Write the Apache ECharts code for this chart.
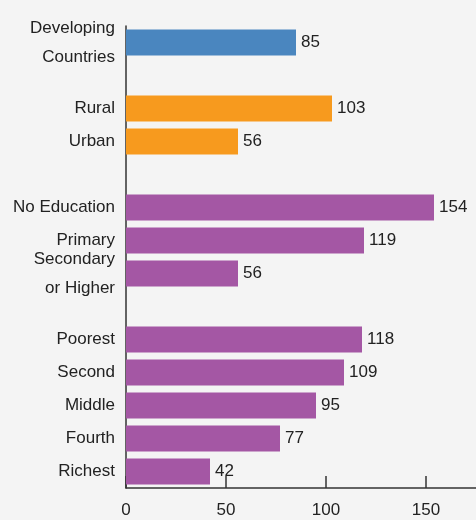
<!DOCTYPE html>
<html>
<head>
<meta charset="utf-8">
<script src="https://cdn.jsdelivr.net/npm/echarts@6/dist/echarts.min.js"></script>
<style>
  html, body { margin: 0; padding: 0; background: #f4f4f4; }
  #app { width: 476px; height: 520px; }
</style>
</head>
<body>
<div id="app"></div>
<script>
// categories, top to bottom; blank entries are the gaps between groups
var categories = ['Developing\nCountries', ' ', 'Rural', 'Urban', '  ', 'No Education', 'Primary',
  'Secondary\nor Higher', '   ', 'Poorest', 'Second', 'Middle', 'Fourth', 'Richest'];
var developingValues = [85, '-', '-', '-', '-', '-', '-', '-', '-', '-', '-', '-', '-', '-'];
var residenceValues = ['-', '-', 103, 56, '-', '-', '-', '-', '-', '-', '-', '-', '-', '-'];
var educationValues = ['-', '-', '-', '-', '-', 154, 119, 56, '-', '-', '-', '-', '-', '-'];
var wealthValues = ['-', '-', '-', '-', '-', '-', '-', '-', '-', 118, 109, 95, 77, 42];
var xTicks = [0, 50, 100, 150];

window.onload = function() {
  var myChart = echarts.init(document.getElementById('app'));
  var font = '"Liberation Sans Narrow", "Liberation Sans", sans-serif';

  function makeSeries(name, data, color) {
    return {
      name: name,
      type: 'bar',
      data: data,
      barGap: '-100%',
      barCategoryGap: '21%',
      itemStyle: { color: color },
      label: {
        show: true,
        position: 'right',
        distance: 5,
        color: '#222',
        fontFamily: font,
        fontSize: 17
      }
    };
  }

  var option = {
    backgroundColor: '#f4f4f4',
    animation: false,
    grid: { left: 126, right: -2, top: 26, bottom: 32, containLabel: false },
    xAxis: {
      type: 'value',
      min: 0,
      max: 175,
      interval: 50,
      splitLine: { show: false },
      axisLine: { show: true, lineStyle: { color: '#333', width: 1.5 } },
      axisTick: { show: true, inside: true, length: 12, lineStyle: { color: '#333', width: 1.5 } },
      axisLabel: {
        showMaxLabel: false,
        margin: 14,
        color: '#222',
        fontFamily: font,
        fontSize: 17,
        formatter: function(v) { return xTicks.indexOf(v) >= 0 ? String(v) : ''; }
      }
    },
    yAxis: {
      type: 'category',
      data: categories,
      inverse: true,
      axisLine: { show: true, lineStyle: { color: '#333', width: 1.5 } },
      axisTick: { show: false },
      axisLabel: {
        margin: 11,
        color: '#222',
        fontFamily: font,
        fontSize: 17,
        lineHeight: 29,
        interval: 0
      }
    },
    series: [
      makeSeries('Developing Countries', developingValues, '#4a86bf'),
      makeSeries('Residence', residenceValues, '#f79a1e'),
      makeSeries('Education', educationValues, '#a457a4'),
      makeSeries('Wealth', wealthValues, '#a457a4')
    ]
  };
  myChart.setOption(option);
};
</script>
</body>
</html>
